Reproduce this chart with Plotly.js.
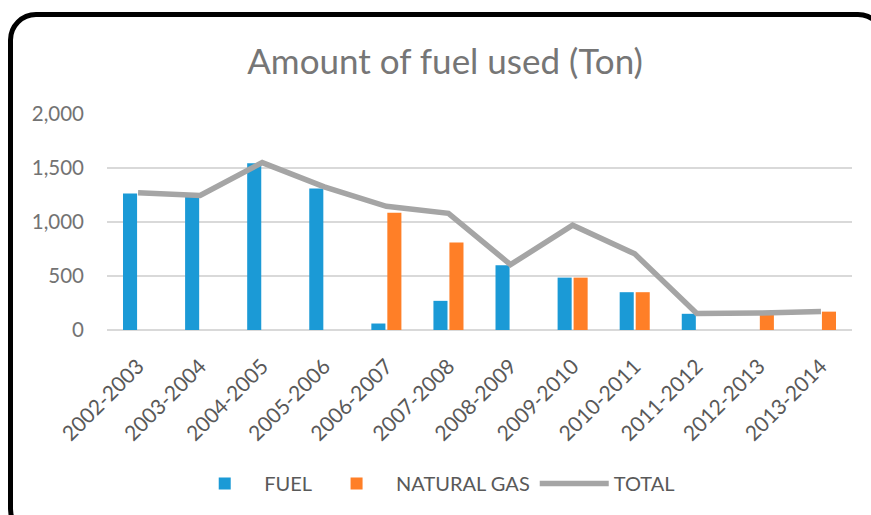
<!DOCTYPE html>
<html>
<head>
<meta charset="utf-8">
<script src="https://cdn.plot.ly/plotly-3.0.1.min.js"></script>
<style>
  html, body { margin: 0; padding: 0; background: #fff; overflow: hidden; }
  #chart { position: absolute; left: 0; top: 0; width: 871px; height: 515px; }
  #frame { position: absolute; left: 8px; top: 12px; width: 868px; height: 515px;
           border: 5.5px solid #000; border-radius: 28px; pointer-events: none; }
</style>
</head>
<body>
<div id="chart"></div>
<div id="frame"></div>
<script>
const categories = ["2002-2003","2003-2004","2004-2005","2005-2006","2006-2007","2007-2008",
                    "2008-2009","2009-2010","2010-2011","2011-2012","2012-2013","2013-2014"];
const fuel       = [1265, 1235, 1545, 1310, 60, 270, 600, 485, 350, 150, 0, 0];
const naturalGas = [0, 0, 0, 0, 1085, 810, 0, 485, 350, 0, 150, 170];
const total      = [1270, 1245, 1550, 1325, 1145, 1080, 605, 970, 705, 152, 157, 172];
const yTicks     = [0, 500, 1000, 1500, 2000];
const yTickText  = ["0", "500", "1,000", "1,500", "2,000"];

const FONT = "Lato, 'Noto Sans', sans-serif";
const TXT = "#595959";

const traces = [
  { type: "bar", name: "FUEL", x: categories, y: fuel,
    marker: { color: "#1B9AD6" } },
  { type: "bar", name: "NATURAL GAS", x: categories, y: naturalGas,
    marker: { color: "#FF7F27" } },
  { type: "scatter", mode: "lines", name: "TOTAL", x: categories, y: total,
    line: { color: "#A5A5A5", width: 5.5 } }
];

const layout = {
  width: 871, height: 515,
  paper_bgcolor: "#ffffff", plot_bgcolor: "#ffffff",
  margin: { l: 107, r: 19, t: 114, b: 181 },
  font: { family: FONT, color: TXT },
  title: { text: "Amount of fuel used (Ton)", font: { family: FONT, size: 35, color: "#767676" },
           xref: "container", x: 0.511, xanchor: "center",
           yref: "container", y: 1 - 62/515, yanchor: "middle" },
  barmode: "group", bargap: 0.485, bargroupgap: 0.12,
  xaxis: { type: "category", tickangle: -45, tickfont: { family: FONT, size: 21, color: TXT },
           ticklabelstandoff: 19,
           showgrid: false, showline: false, ticks: "", automargin: false },
  yaxis: { range: [0, 2000], tickvals: yTicks, ticktext: yTickText,
           tickfont: { family: FONT, size: 20.5, color: "#737373" },
           ticklabelstandoff: 22,
           showgrid: true, gridcolor: "#D9D9D9", gridwidth: 1.5,
           zeroline: true, zerolinecolor: "#D9D9D9", zerolinewidth: 2,
           showline: false, ticks: "", ticklen: 0, automargin: false },
  showlegend: true,
  legend: { orientation: "h", x: 0.105, xanchor: "left", y: -0.62, yanchor: "top",
            font: { family: FONT, size: 20, color: TXT }, itemwidth: 69, traceorder: "normal" }
};

Plotly.newPlot("chart", traces, layout, { displayModeBar: false, staticPlot: true });
</script>
</body>
</html>
